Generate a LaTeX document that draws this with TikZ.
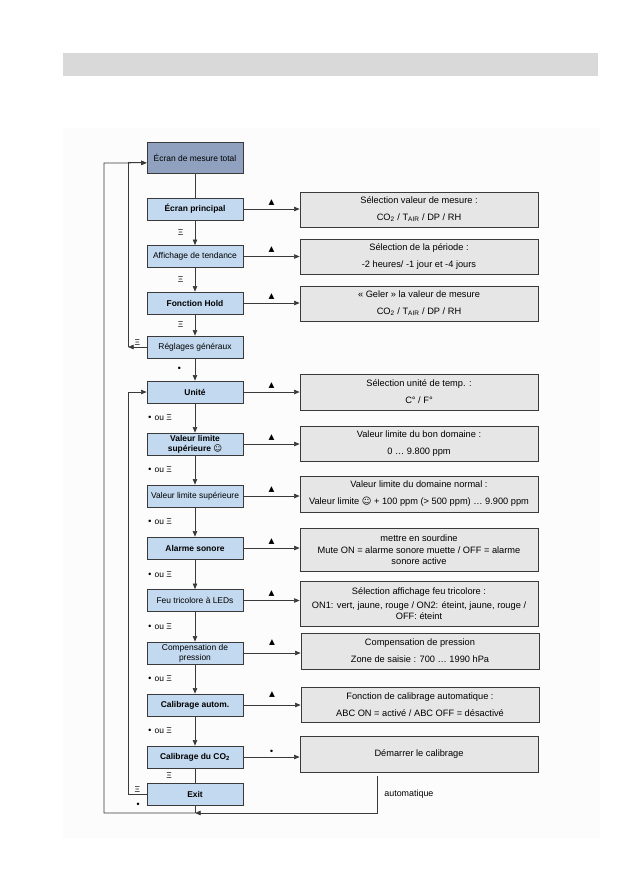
\documentclass[tikz,border=0pt]{standalone}
\usepackage{fontspec}
\setmainfont{Liberation Sans}
\newfontfamily\dejavu{DejaVu Sans}
\usepackage{tikz}
\usetikzlibrary{arrows.meta,positioning,calc}
\definecolor{menublue}{HTML}{C3D9EF}
\definecolor{topblue}{HTML}{8FA1BF}
\definecolor{panelgray}{HTML}{E6E6E6}
\definecolor{bandgray}{HTML}{D9D9D9}
\definecolor{linegray}{HTML}{3A3A3A}
\newcommand{\bul}{{\dejavu •}}

\begin{document}
\begin{tikzpicture}[x=0.03cm, y=-0.03cm,
  menu/.style={draw=linegray, fill=menublue, line width=0.6pt, minimum width=2.88cm, minimum height=0.66cm, inner sep=1pt, align=center, font=\fontsize{7.2}{8.8}\selectfont},
  menub/.style={menu, font=\bfseries\fontsize{7.2}{8.8}\selectfont},
  panel/.style={draw=linegray, fill=panelgray, line width=0.6pt, minimum width=7.14cm, minimum height=1.05cm, inner sep=1pt, align=center, font=\fontsize{7.9}{9.4}\selectfont},
  conn/.style={draw=linegray, line width=0.6pt},
  arr/.style={conn, -{Triangle[length=4.8pt,width=3.8pt]}},
  key/.style={font=\fontsize{7.2}{8.8}\selectfont, inner sep=1pt},
  tri/.style={font=\dejavu\fontsize{6.5}{7}\selectfont, inner sep=1pt, above=2pt}]
\path[use as bounding box, fill=white] (0,0) rectangle (629,893);
\fill[bandgray] (63,53) rectangle (598,76);
\fill[black!1] (63,128) rectangle (600,838);

\node[menu, fill=topblue, minimum height=0.93cm] (total) at (195,157.5) {Écran de mesure total};
\node[menub] (princ) at (195,209) {Écran principal};
\node[menu] (tend) at (195,256.5) {Affichage de tendance};
\node[menub] (hold) at (195,303) {Fonction Hold};
\node[menu] (regl) at (195,347) {Réglages généraux};
\node[menub] (unite) at (195,392) {Unité};
\node[menub] (vlbon) at (195,444) {Valeur limite\\supérieure {\dejavu ☺}};
\node[menu] (vlnorm) at (195,496) {Valeur limite supérieure};
\node[menub] (alarme) at (195,548) {Alarme sonore};
\node[menu] (feu) at (195,600.5) {Feu tricolore à LEDs};
\node[menu] (comp) at (195,653) {Compensation de\\pression};
\node[menub] (calauto) at (195,705) {Calibrage autom.};
\node[menub] (calco) at (195,757) {Calibrage du CO\textsubscript{2}};
\node[menub] (exit) at (195,794.5) {Exit};

\node[panel] (selmes) at (419,209.5) {Sélection valeur de mesure :\\[5pt]CO\textsubscript{2} / T\textsubscript{AIR} / DP / RH};
\node[panel] (selper) at (419,256.5) {Sélection de la période :\\[5pt]-2 heures/ -1 jour et -4 jours};
\node[panel] (geler) at (419,303.5) {« Geler » la valeur de mesure\\[5pt]CO\textsubscript{2} / T\textsubscript{AIR} / DP / RH};
\node[panel, minimum height=1.08cm] (selunit) at (419,392) {Sélection unité de temp. :\\[5pt]C° / F°};
\node[panel] (bondom) at (419,443.5) {Valeur limite du bon domaine :\\[5pt]0 … 9.800 ppm};
\node[panel, minimum height=1.08cm] (normdom) at (419,494) {Valeur limite du domaine normal :\\[5pt]Valeur limite {\dejavu ☺} + 100 ppm (> 500 ppm) … 9.900 ppm};
\node[panel, minimum height=1.29cm] (sourd) at (419,549.5) {mettre en sourdine\\[1pt]Mute ON = alarme sonore muette / OFF = alarme\\sonore active};
\node[panel, minimum height=1.35cm] (feusel) at (419,603.5) {Sélection affichage feu tricolore :\\[3pt]ON1: vert, jaune, rouge / ON2: éteint, jaune, rouge /\\OFF: éteint};
\node[panel, minimum height=1.08cm] (press) at (420,651) {Compensation de pression\\[5pt]Zone de saisie : 700 … 1990 hPa};
\node[panel] (calfn) at (420,704.5) {Fonction de calibrage automatique :\\[5pt]ABC ON = activé / ABC OFF = désactivé};
\node[panel, minimum height=1.08cm] (start) at (419,754) {Démarrer le calibrage};

\draw[conn] (total) -- (princ);
\draw[arr] (princ) -- node[key, left=0.3cm]{Ξ} (tend);
\draw[arr] (tend) -- node[key, left=0.3cm]{Ξ} (hold);
\draw[arr] (hold) -- node[key, left=0.3cm]{Ξ} (regl);
\draw[arr] (regl) -- node[key, left=0.35cm]{\bul} (unite);
\draw[arr] (unite) -- node[key, left=0.65cm]{\bul{} ou Ξ} (vlbon);
\draw[arr] (vlbon) -- node[key, left=0.65cm]{\bul{} ou Ξ} (vlnorm);
\draw[arr] (vlnorm) -- node[key, left=0.65cm]{\bul{} ou Ξ} (alarme);
\draw[arr] (alarme) -- node[key, left=0.65cm]{\bul{} ou Ξ} (feu);
\draw[arr] (feu) -- node[key, left=0.65cm]{\bul{} ou Ξ} (comp);
\draw[arr] (comp) -- node[key, left=0.65cm]{\bul{} ou Ξ} (calauto);
\draw[arr] (calauto) -- node[key, left=0.65cm]{\bul{} ou Ξ} (calco);
\draw[conn] (calco) -- node[key, left=0.65cm]{Ξ} (exit);

\draw[arr] (princ.east) -- node[tri]{▲} (princ.east -| selmes.west);
\draw[arr] (tend.east) -- node[tri]{▲} (tend.east -| selper.west);
\draw[arr] (hold.east) -- node[tri]{▲} (hold.east -| geler.west);
\draw[arr] (unite.east) -- node[tri]{▲} (unite.east -| selunit.west);
\draw[arr] (vlbon.east) -- node[tri]{▲} (vlbon.east -| bondom.west);
\draw[arr] (vlnorm.east) -- node[tri]{▲} (vlnorm.east -| normdom.west);
\draw[arr] (alarme.east) -- node[tri]{▲} (alarme.east -| sourd.west);
\draw[arr] (feu.east) -- node[tri]{▲} (feu.east -| feusel.west);
\draw[arr] (comp.east) -- node[tri, above=5pt]{▲} (comp.east -| press.west);
\draw[arr] (calauto.east) -- node[tri, above=5pt]{▲} (calauto.east -| calfn.west);
\draw[arr] (calco.east) -- node[key, above=1pt]{\bul} (calco.east -| start.west);

\coordinate (totalin) at ([yshift=-0.16cm]total.west);
\coordinate (reglc) at (128,347);
\coordinate (exitc) at (128,794.5);
\coordinate (outer) at (104,163);
\coordinate (autotop) at (377,776);
\coordinate (autobot) at (377,813);
\coordinate (exitbot) at (195,813);
\draw[arr] (regl.west) -- node[key, above]{Ξ} (reglc);
\draw[arr] (reglc) |- (totalin);
\draw[arr] (exit.west) -- node[key, above]{Ξ} (exitc) |- (unite.west);
\draw[arr] (autotop) -- (autobot) -- (exitbot);
\draw[conn] (exit) -- (exitbot);
\draw[arr] (exitbot) -| (outer) -- (totalin);
\node[key] (exitdot) at (138,805) {\bul};
\node[key, anchor=west, font=\fontsize{7.6}{9}\selectfont] (auto) at (383,794) {automatique};
\end{tikzpicture}
\end{document}
